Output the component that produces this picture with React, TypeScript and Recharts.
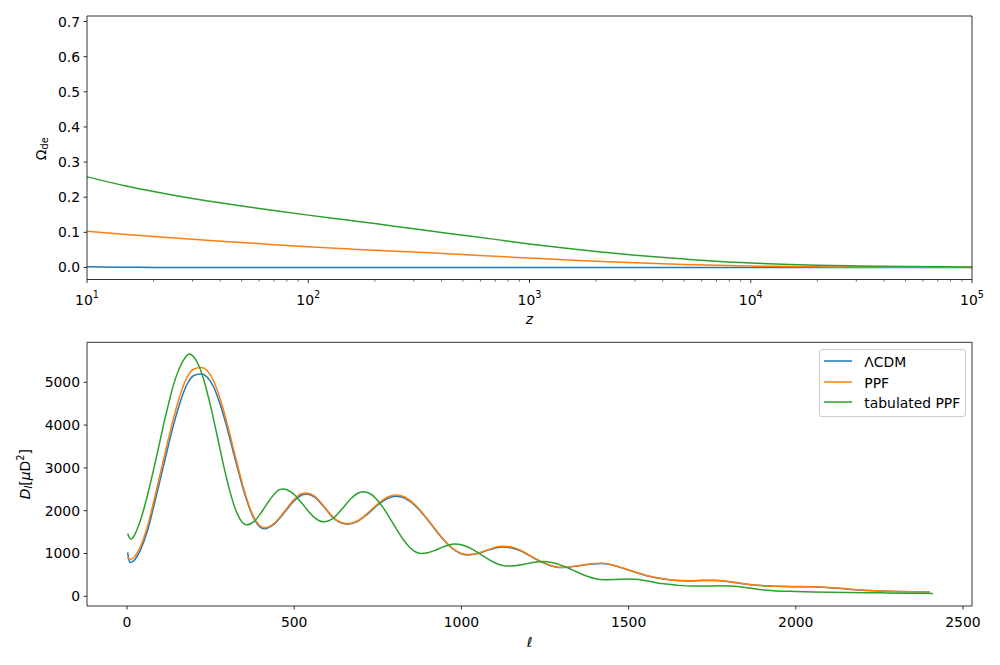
import React from 'react';
import { LineChart, Line, XAxis, YAxis, Legend, Label } from 'recharts';

const FONT = '"DejaVu Sans", "Liberation Sans", sans-serif';
const FS = 13.9;
const BLUE = '#1f77b4';
const ORANGE = '#ff7f0e';
const GREEN = '#2ca02c';

// ---------- top panel: Omega_de(z) ----------
const zValues = [10, 15, 20, 30, 50, 70, 100, 150, 200, 300, 500, 700, 1000, 1500, 2000, 3000, 5000, 7000, 10000, 15000, 20000, 30000, 50000, 70000, 100000];
const omegaLcdm = [0.0018, 0.0006, 0.00026, 0.00011, 0.000025, 0.00001, 0.000004, 0, 0, 0, 0, 0, 0, 0, 0, 0, 0, 0, 0, 0, 0, 0, 0, 0, 0];
const omegaPpf = [0.103, 0.094, 0.088, 0.08, 0.071, 0.065, 0.059, 0.053, 0.049, 0.044, 0.037, 0.032, 0.027, 0.0215, 0.018, 0.0135, 0.0088, 0.0062, 0.0042, 0.0028, 0.002, 0.0013, 0.0008, 0.0005, 0.0003];
const omegaTab = [0.258, 0.232, 0.216, 0.196, 0.175, 0.162, 0.149, 0.135, 0.125, 0.11, 0.092, 0.08, 0.067, 0.054, 0.0455, 0.035, 0.024, 0.0175, 0.0125, 0.0085, 0.0065, 0.0045, 0.003, 0.0022, 0.0015];
const zMajorTicks = [10, 100, 1000, 10000, 100000];
const zMinorMultipliers = [2, 3, 4, 5, 6, 7, 8, 9];
const omegaTicks = [0, 0.1, 0.2, 0.3, 0.4, 0.5, 0.6, 0.7];

// ---------- bottom panel: D_l(ell) ----------
const ellShared = [2, 5, 9, 20, 40, 60, 80, 100, 120, 140, 160, 180, 200, 222, 240, 260, 280, 300, 325, 350, 375, 395, 410, 440, 470, 500, 520, 537, 560, 590, 620, 660, 690, 720, 750, 780, 805, 830, 860, 890, 920, 950, 980, 1000, 1020, 1050, 1080, 1105, 1125, 1150, 1180, 1210, 1240, 1265, 1290, 1320, 1350, 1390, 1420, 1450, 1480, 1520, 1560, 1600, 1640, 1680, 1720, 1760, 1800, 1840, 1880, 1920, 1960, 2000, 2050, 2100, 2150, 2200, 2250, 2300, 2350, 2400];
const dlLcdm = [1028, 872, 790, 830, 1080, 1500, 2100, 2750, 3400, 4030, 4560, 4960, 5160, 5195, 5120, 4880, 4450, 3910, 3160, 2440, 1890, 1640, 1580, 1687, 1950, 2232, 2355, 2390, 2322, 2079, 1808, 1685, 1752, 1925, 2133, 2292, 2340, 2295, 2129, 1874, 1576, 1294, 1078, 994, 965, 999, 1078, 1134, 1150, 1130, 1050, 920, 800, 720, 675, 680, 710, 755, 765, 730, 660, 560, 470, 410, 368, 360, 368, 370, 340, 295, 258, 238, 228, 224, 220, 200, 170, 140, 122, 110, 104, 100];
const dlPpf = [925, 878, 864, 905, 1160, 1600, 2220, 2890, 3550, 4190, 4730, 5120, 5310, 5345, 5270, 5020, 4580, 4020, 3240, 2490, 1920, 1665, 1600, 1705, 1975, 2265, 2390, 2415, 2345, 2095, 1820, 1695, 1765, 1945, 2160, 2320, 2365, 2320, 2150, 1890, 1590, 1300, 1085, 1000, 975, 1008, 1090, 1152, 1172, 1150, 1065, 932, 810, 728, 680, 685, 716, 762, 772, 738, 667, 566, 475, 414, 372, 364, 372, 375, 345, 300, 262, 242, 232, 228, 224, 205, 175, 145, 126, 114, 108, 105];
const ellTab = [2, 6, 11, 20, 30, 40, 49, 65, 82, 95, 109, 125, 139, 155, 170, 186, 200, 215, 230, 250, 270, 290, 310, 330, 345, 358, 380, 400, 420, 440, 457, 467, 480, 500, 520, 540, 560, 575, 590, 610, 630, 650, 670, 690, 707, 725, 745, 765, 785, 805, 825, 845, 865, 881, 900, 920, 940, 960, 983, 1000, 1020, 1040, 1060, 1080, 1100, 1120, 1140, 1160, 1180, 1200, 1220, 1245, 1270, 1300, 1330, 1360, 1395, 1430, 1464, 1500, 1530, 1560, 1590, 1614, 1650, 1690, 1730, 1770, 1803, 1840, 1880, 1933, 1980, 2050, 2100, 2153, 2250, 2330, 2410];
const dlTab = [1470, 1390, 1335, 1390, 1560, 1770, 2000, 2480, 3040, 3500, 4000, 4520, 4940, 5300, 5530, 5660, 5594, 5387, 5049, 4443, 3739, 3020, 2388, 1925, 1726, 1670, 1750, 1940, 2177, 2385, 2496, 2505, 2484, 2377, 2204, 2011, 1845, 1766, 1740, 1789, 1924, 2106, 2284, 2408, 2445, 2407, 2281, 2083, 1839, 1579, 1339, 1147, 1029, 1000, 1018, 1070, 1137, 1194, 1220, 1204, 1152, 1069, 970, 869, 783, 726, 705, 714, 738, 769, 795, 810, 790, 723, 624, 518, 421, 385, 395, 405, 390, 350, 305, 285, 255, 240, 240, 245, 241, 215, 170, 131, 115, 103, 95, 90, 80, 72, 68];
const ellTicks = [0, 500, 1000, 1500, 2000, 2500];
const dlTicks = [0, 1000, 2000, 3000, 4000, 5000];

const seriesNames = ['\u039BCDM', 'PPF', 'tabulated PPF'];
const seriesColors = [BLUE, ORANGE, GREEN];

// ---------- build data tables ----------
const zip = (xs: number[], ys: number[]) => xs.map((x, i) => ({ x, y: ys[i] }));
const topLcdm = zip(zValues, omegaLcdm);
const topPpf = zip(zValues, omegaPpf);
const topTab = zip(zValues, omegaTab);
const botLcdm = zip(ellShared, dlLcdm);
const botPpf = zip(ellShared, dlPpf);
const botTab = zip(ellTab, dlTab);

const zAllTicks: number[] = [];
zMajorTicks.forEach((t, i) => {
  zAllTicks.push(t);
  if (i < zMajorTicks.length - 1) zMinorMultipliers.forEach((m) => zAllTicks.push(m * t));
});
zAllTicks.sort((a, b) => a - b);

// ---------- tick components ----------
const LogXTick = (props: any) => {
  const { x, y, payload } = props;
  const v = payload.value as number;
  const e = Math.log10(v);
  const major = Math.abs(e - Math.round(e)) < 1e-6;
  return (
    <g>
      <line x1={x} x2={x} y1={y} y2={y + (major ? 3.5 : 2)} stroke="#000" strokeWidth={major ? 0.8 : 0.6} />
      {major && (
        <text x={x} y={y + 25} textAnchor="middle" fontFamily={FONT} fontSize={FS} fill="#000">
          <tspan>10</tspan>
          <tspan dy={-7} fontSize={9.7}>{Math.round(e)}</tspan>
        </text>
      )}
    </g>
  );
};

const LinXTick = (props: any) => {
  const { x, y, payload } = props;
  return (
    <g>
      <line x1={x} x2={x} y1={y} y2={y + 3.5} stroke="#000" strokeWidth={0.8} />
      <text x={x} y={y + 21} textAnchor="middle" fontFamily={FONT} fontSize={FS} fill="#000">
        {String(payload.value)}
      </text>
    </g>
  );
};

const makeYTick = (fmt: (v: number) => string) => (props: any) => {
  const { x, y, payload } = props;
  return (
    <g>
      <line x1={x - 3.5} x2={x} y1={y} y2={y} stroke="#000" strokeWidth={0.8} />
      <text x={x - 7} y={y + 5} textAnchor="end" fontFamily={FONT} fontSize={FS} fill="#000">
        {fmt(payload.value)}
      </text>
    </g>
  );
};
const OmegaYTick = makeYTick((v) => v.toFixed(1));
const DlYTick = makeYTick((v) => String(Math.round(v)));

// ---------- axis labels ----------
const ZLabel = (props: any) => {
  const vb = props.viewBox || { x: 87, y: 279.5, width: 885 };
  return (
    <text x={vb.x + vb.width / 2} y={vb.y + 44} textAnchor="middle" fontFamily={FONT} fontSize={FS} fontStyle="italic" fill="#000">
      z
    </text>
  );
};
const EllLabel = (props: any) => {
  const vb = props.viewBox || { x: 87, y: 276, width: 885 };
  return (
    <text x={vb.x + vb.width / 2} y={vb.y + 40.5} textAnchor="middle" fontFamily={FONT} fontSize={FS} fontStyle="italic" fill="#000">
      {'\u2113'}
    </text>
  );
};
const OmegaLabel = (props: any) => {
  const vb = props.viewBox || { x: 0, y: 16, width: 87, height: 263.5 };
  const cx = 46;
  const cy = vb.y + vb.height / 2 + 1;
  return (
    <text x={cx} y={cy} transform={`rotate(-90, ${cx}, ${cy})`} textAnchor="middle" fontFamily={FONT} fontSize={FS} fill="#000">
      <tspan>{'\u03A9'}</tspan>
      <tspan dy={1.5} fontSize={9.7}>de</tspan>
    </text>
  );
};
const DlLabel = (props: any) => {
  const vb = props.viewBox || { x: 0, y: 12.3, width: 87, height: 263.7 };
  const cx = 30;
  const cy = vb.y + vb.height / 2;
  return (
    <text x={cx} y={cy} transform={`rotate(-90, ${cx}, ${cy})`} textAnchor="middle" fontFamily={FONT} fontSize={FS} fill="#000">
      <tspan fontStyle="italic">D</tspan>
      <tspan fontStyle="italic" fontSize={9.7} dy={2.5}>l</tspan>
      <tspan dy={-2.5}>[</tspan>
      <tspan fontStyle="italic">{'\u03BC'}</tspan>
      <tspan>D</tspan>
      <tspan fontSize={9.7} dy={-6}>2</tspan>
      <tspan dy={6}>]</tspan>
    </text>
  );
};

// ---------- legend ----------
const LegendBox = () => {
  const rows = [11.7, 32.4, 53.1];
  return (
    <div
      style={{
        position: 'relative',
        width: 146.4,
        height: 67.4,
        boxSizing: 'border-box',
        border: '1px solid #cccccc',
        borderRadius: 3,
        background: 'rgba(255,255,255,0.8)',
        fontFamily: FONT,
        fontSize: FS,
        color: '#000',
      }}
    >
      {seriesNames.map((name, i) => (
        <React.Fragment key={name}>
          <svg
            width={30}
            height={6}
            style={{ position: 'absolute', left: 3, top: rows[i] - 4, overflow: 'visible' }}
          >
            <line x1={1} x2={29} y1={3} y2={3} stroke={seriesColors[i]} strokeWidth={1.5} />
          </svg>
          <span
            style={{
              position: 'absolute',
              left: 44,
              top: rows[i] - 8,
              lineHeight: '16.2px',
              whiteSpace: 'nowrap',
            }}
          >
            {name}
          </span>
        </React.Fragment>
      ))}
    </div>
  );
};

const spine = { stroke: '#000', strokeWidth: 0.8 };

const TopChart = () => (
  <LineChart width={1000} height={330} margin={{ top: 15, right: 27, bottom: 49.5, left: 0 }}>
    <XAxis
      dataKey="x"
      type="number"
      scale="log"
      domain={[10, 100000]}
      allowDataOverflow
      ticks={zAllTicks}
      interval={0}
      tick={<LogXTick />}
      tickLine={false}
      tickSize={0}
      tickMargin={0}
      height={1}
      axisLine={spine}
    >
      <Label content={<ZLabel />} />
    </XAxis>
    <XAxis xAxisId="top" orientation="top" type="number" domain={[0, 1]} height={1} tick={false} tickLine={false} axisLine={spine} />
    <YAxis
      type="number"
      domain={[-0.0342, 0.7157]}
      allowDataOverflow
      ticks={omegaTicks}
      interval={0}
      tick={<OmegaYTick />}
      tickLine={false}
      tickSize={0}
      tickMargin={0}
      width={87}
      axisLine={spine}
    >
      <Label content={<OmegaLabel />} />
    </YAxis>
    <YAxis yAxisId="right" orientation="right" type="number" domain={[0, 1]} width={1} tick={false} tickLine={false} axisLine={spine} />
    <Line data={topLcdm} dataKey="y" name={seriesNames[0]} stroke={BLUE} strokeWidth={1.5} dot={false} type="monotone" isAnimationActive={false} />
    <Line data={topPpf} dataKey="y" name={seriesNames[1]} stroke={ORANGE} strokeWidth={1.5} dot={false} type="monotone" isAnimationActive={false} />
    <Line data={topTab} dataKey="y" name={seriesNames[2]} stroke={GREEN} strokeWidth={1.5} dot={false} type="monotone" isAnimationActive={false} />
  </LineChart>
);

const BottomChart = () => (
  <LineChart width={1000} height={335} margin={{ top: 11.3, right: 27, bottom: 58, left: 0 }}>
    <XAxis
      dataKey="x"
      type="number"
      domain={[-119.6, 2527]}
      allowDataOverflow
      ticks={ellTicks}
      interval={0}
      tick={<LinXTick />}
      tickLine={false}
      tickSize={0}
      tickMargin={0}
      height={1}
      axisLine={spine}
    >
      <Label content={<EllLabel />} />
    </XAxis>
    <XAxis xAxisId="top" orientation="top" type="number" domain={[0, 1]} height={1} tick={false} tickLine={false} axisLine={spine} />
    <YAxis
      type="number"
      domain={[-227, 5935]}
      allowDataOverflow
      ticks={dlTicks}
      interval={0}
      tick={<DlYTick />}
      tickLine={false}
      tickSize={0}
      tickMargin={0}
      width={87}
      axisLine={spine}
    >
      <Label content={<DlLabel />} />
    </YAxis>
    <YAxis yAxisId="right" orientation="right" type="number" domain={[0, 1]} width={1} tick={false} tickLine={false} axisLine={spine} />
    <Legend
      layout="horizontal"
      verticalAlign="middle"
      align="center"
      content={<LegendBox />}
      wrapperStyle={{ left: 819.3, top: 19.3, width: 146.4, height: 67.4 }}
    />
    <Line data={botLcdm} dataKey="y" name={seriesNames[0]} stroke={BLUE} strokeWidth={1.5} dot={false} type="monotone" isAnimationActive={false} />
    <Line data={botPpf} dataKey="y" name={seriesNames[1]} stroke={ORANGE} strokeWidth={1.5} dot={false} type="monotone" isAnimationActive={false} />
    <Line data={botTab} dataKey="y" name={seriesNames[2]} stroke={GREEN} strokeWidth={1.5} dot={false} type="monotone" isAnimationActive={false} />
  </LineChart>
);

export default function App() {
  return (
    <div style={{ position: 'absolute', left: 0, top: 0, width: 1000, height: 665, background: '#fff' }}>
      <div style={{ position: 'absolute', left: 0, top: 0 }}>
        <TopChart />
      </div>
      <div style={{ position: 'absolute', left: 0, top: 330 }}>
        <BottomChart />
      </div>
    </div>
  );
}
